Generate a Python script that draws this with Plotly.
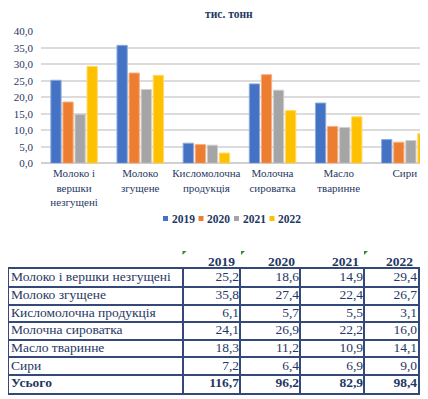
import plotly.graph_objects as go

# page body has an 8px margin; lay the figure out so that the visible window matches the reference
OFF = 8
W, H = 428 - OFF, 399 - OFF

# ---------------- data ----------------
chart_categories = ["Молоко і<br>вершки<br>незгущені", "Молоко<br>згущене", "Кисломолочна<br>продукція",
                    "Молочна<br>сироватка", "Масло<br>тваринне", "Сири"]
table_categories = ["Молоко і вершки незгущені", "Молоко згущене", "Кисломолочна продукція",
                    "Молочна сироватка", "Масло тваринне", "Сири"]
total_label = "Усього"
years = ["2019", "2020", "2021", "2022"]
v2019 = [25.2, 35.8, 6.1, 24.1, 18.3, 7.2]
v2020 = [18.6, 27.4, 5.7, 26.9, 11.2, 6.4]
v2021 = [14.9, 22.4, 5.5, 22.2, 10.9, 6.9]
v2022 = [29.4, 26.7, 3.1, 16.0, 14.1, 9.0]
totals = [116.7, 96.2, 82.9, 98.4]
unit_title = "тис. тонн"
y_ticks = [0, 5, 10, 15, 20, 25, 30, 35, 40]

series = [v2019, v2020, v2021, v2022]
colors = ["#4472C4", "#ED7D31", "#A5A5A5", "#FFC000"]
edge_colors = ["#8fa9dc", "#f4b183", "#cfcfcf", "#ffd966"]

TXT = "#1f3864"
SERIF = "Liberation Serif"
TFS = 13.5


def px(x):
    return (x - OFF) / W


def py(y):
    return 1 - (y - OFF) / H


def fmt(v):
    return f"{v:.1f}".replace(".", ",")


fig = go.Figure()

# ---------------- bar chart ----------------
for yr, vals, c, ec in zip(years, series, colors, edge_colors):
    fig.add_trace(go.Bar(x=chart_categories, y=vals, name=yr, marker_color=c,
                         marker_line=dict(color=ec, width=1), showlegend=False,
                         xaxis="x", yaxis="y"))

# ---------------- table (drawn on its own axes) ----------------
col_edges = [0, 174, 231, 291, 355, 409]
n_rows = len(table_categories) + 1
row_labels = table_categories + [f"<b>{total_label}</b>"]

fig.add_trace(go.Scatter(x=[col_edges[0] + 2] * n_rows, y=[i + 0.5 for i in range(n_rows)],
                         text=row_labels, mode="text", textposition="middle right",
                         textfont=dict(family=SERIF, size=TFS, color=TXT),
                         showlegend=False, hoverinfo="skip", xaxis="x2", yaxis="y2"))
for j, (vals, tot) in enumerate(zip(series, totals)):
    texts = [fmt(v) for v in vals] + [f"<b>{fmt(tot)}</b>"]
    fig.add_trace(go.Scatter(x=[col_edges[j + 2] - 1] * n_rows, y=[i + 0.5 for i in range(n_rows)],
                             text=texts, mode="text", textposition="middle left",
                             textfont=dict(family=SERIF, size=TFS, color=TXT),
                             showlegend=False, hoverinfo="skip", xaxis="x2", yaxis="y2"))

annotations = []
# header row
for j, yr in enumerate(years):
    annotations.append(dict(text=f"<b>{yr}</b>", xref="x2", yref="paper", x=col_edges[j + 2] - 3,
                            y=py(261), xanchor="right", yanchor="middle", showarrow=False,
                            font=dict(family=SERIF, size=TFS, color=TXT)))

# chart title
annotations.append(dict(text=f"<b>{unit_title}</b>", xref="paper", yref="paper", x=px(229), y=py(14),
                        xanchor="center", yanchor="middle", showarrow=False,
                        font=dict(family=SERIF, size=11.5, color=TXT)))

shapes = []
# custom compact legend
lx = 163
for yr, c in zip(years, colors):
    shapes.append(dict(type="rect", xref="paper", yref="paper", x0=px(lx), x1=px(lx + 5),
                       y0=py(221), y1=py(216), fillcolor=c, line=dict(width=0)))
    annotations.append(dict(text=f"<b>{yr}</b>", xref="paper", yref="paper", x=px(lx + 6.5), y=py(218.5),
                            xanchor="left", yanchor="middle", showarrow=False,
                            font=dict(family=SERIF, size=11.5, color=TXT)))
    lx += 35.5

# little green corner markers seen above the header
for gx in [182.5, 241, 364]:
    shapes.append(dict(type="path", xref="paper", yref="paper",
                       path=f"M {px(gx)},{py(251)} L {px(gx + 4)},{py(251)} L {px(gx)},{py(255)} Z",
                       fillcolor="#2e8b2e", line=dict(width=0)))

fig.update_layout(
    width=W, height=H,
    margin=dict(l=0, r=0, t=0, b=0),
    paper_bgcolor="white", plot_bgcolor="white",
    separators=", ",
    barmode="group", bargap=0.27, bargroupgap=0.15,
    showlegend=False,
    xaxis=dict(domain=[px(41), 1], range=[-0.5, 5.35], type="category",
               tickfont=dict(family=SERIF, size=11, color=TXT), ticklabelstandoff=2,
               showgrid=False, showline=False, ticks="", automargin=False, anchor="y"),
    yaxis=dict(domain=[py(163.3), py(31.5)], range=[0, 40], tickvals=y_ticks, tickformat=".1f",
               tickfont=dict(family=SERIF, size=11, color=TXT),
               showgrid=True, gridcolor="#dcdcdc", gridwidth=1.5,
               zeroline=True, zerolinecolor="#d0d0d0", zerolinewidth=1.5,
               showline=False, ticks="", ticklabelstandoff=7, automargin=False, anchor="x"),
    xaxis2=dict(domain=[px(9), px(418)], range=[col_edges[0], col_edges[-1]],
                tickvals=col_edges[1:-1], showticklabels=False, ticks="",
                showgrid=True, gridcolor="#34487a", gridwidth=1.5, zeroline=False,
                showline=True, linecolor="#34487a", linewidth=1.8, mirror=True,
                anchor="y2", automargin=False, fixedrange=True),
    yaxis2=dict(domain=[py(392.7), py(269.3)], range=[n_rows, 0],
                tickvals=list(range(1, n_rows)), showticklabels=False, ticks="",
                showgrid=True, gridcolor="#34487a", gridwidth=1.5, zeroline=False,
                showline=True, linecolor="#34487a", linewidth=1.8, mirror=True,
                anchor="x2", automargin=False, fixedrange=True),
    annotations=annotations,
    shapes=shapes,
)

fig.write_html("out.html")
